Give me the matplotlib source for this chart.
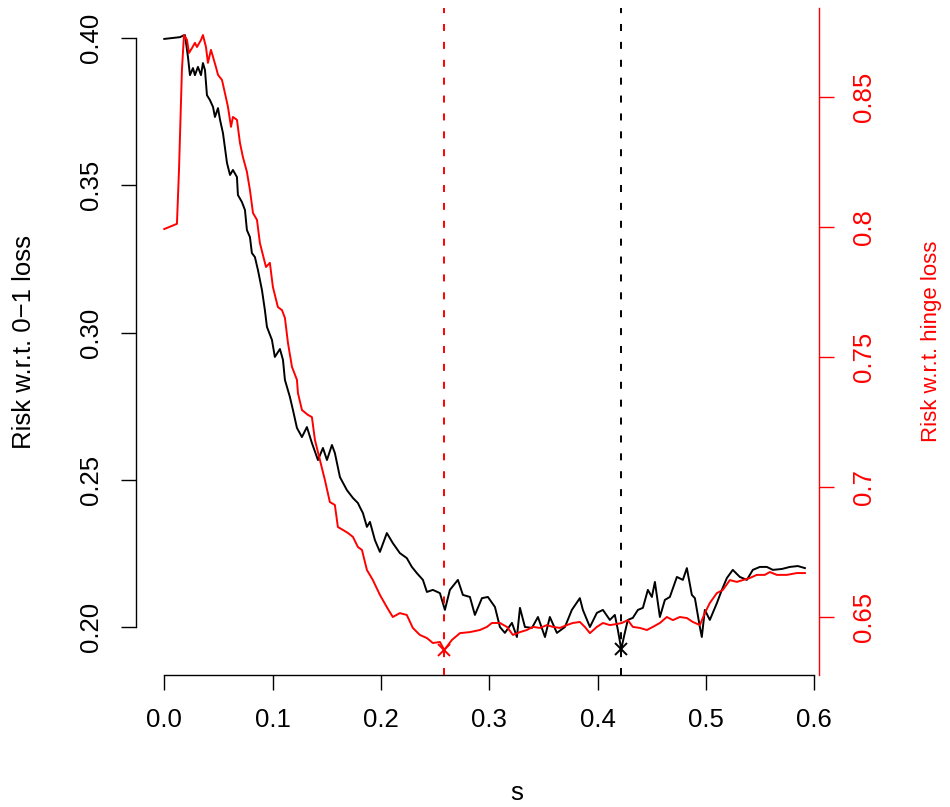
import numpy as np
import matplotlib
matplotlib.use('Agg')
import matplotlib.pyplot as plt

# black curve: risk w.r.t. 0-1 loss (left axis)
s_01 = [0.0, 0.0145, 0.0173, 0.0191, 0.0219, 0.0237, 0.0265, 0.0283, 0.0311, 0.0339,
        0.0357, 0.0376, 0.0394, 0.0422, 0.0450, 0.0468, 0.0496, 0.0515, 0.0542, 0.0579,
        0.0607, 0.0634, 0.0671, 0.0680, 0.0717, 0.0745, 0.0763, 0.0791, 0.0809, 0.0837,
        0.0865, 0.0902, 0.0929, 0.0948, 0.0994, 0.1021, 0.1068, 0.1096, 0.1114, 0.1160,
        0.1188, 0.1225, 0.1271, 0.1317, 0.1363, 0.1419, 0.1465, 0.1502, 0.1548, 0.1575,
        0.1622, 0.1686, 0.1742, 0.1788, 0.1806, 0.1834, 0.1871, 0.1899, 0.1945, 0.1991,
        0.2055, 0.2110, 0.2175, 0.2239, 0.2286, 0.2332, 0.2388, 0.2425, 0.2480, 0.2545,
        0.2591, 0.2637, 0.2711, 0.2757, 0.2822, 0.2868, 0.2933, 0.2988, 0.3053, 0.3099,
        0.3145, 0.3210, 0.3256, 0.3284, 0.3330, 0.3395, 0.3450, 0.3515, 0.3560, 0.3625,
        0.3699, 0.3763, 0.3837, 0.3865, 0.3930, 0.3994, 0.4050, 0.4114, 0.4160, 0.4188,
        0.4219, 0.4252, 0.4280, 0.4326, 0.4373, 0.4419, 0.4465, 0.4502, 0.4530, 0.4576,
        0.4622, 0.4668, 0.4733, 0.4788, 0.4825, 0.4871, 0.4899, 0.4945, 0.4963, 0.4991,
        0.5037, 0.5102, 0.5148, 0.5194, 0.5249, 0.5314, 0.5379, 0.5434, 0.5499, 0.5563,
        0.5619, 0.5702, 0.5776, 0.5850, 0.5915]
risk_01 = [0.3997, 0.4003, 0.4008, 0.4010, 0.3935, 0.3874, 0.3898, 0.3874, 0.3902, 0.3874,
           0.3915, 0.3891, 0.3806, 0.3789, 0.3766, 0.3732, 0.3762, 0.3722, 0.3677, 0.3576,
           0.3535, 0.3552, 0.3528, 0.3467, 0.3443, 0.3416, 0.3348, 0.3324, 0.3270, 0.3256,
           0.3212, 0.3144, 0.3076, 0.3019, 0.2975, 0.2917, 0.2944, 0.2907, 0.2839, 0.2781,
           0.2737, 0.2676, 0.2645, 0.2679, 0.2625, 0.2567, 0.2608, 0.2567, 0.2618, 0.2591,
           0.2509, 0.2465, 0.2438, 0.2421, 0.2407, 0.2387, 0.2340, 0.2357, 0.2295, 0.2255,
           0.2319, 0.2285, 0.2251, 0.2234, 0.2204, 0.2183, 0.2160, 0.2119, 0.2126, 0.2115,
           0.2058, 0.2126, 0.2160, 0.2109, 0.2102, 0.2041, 0.2098, 0.2102, 0.2068, 0.2000,
           0.1980, 0.2014, 0.1966, 0.2065, 0.2000, 0.1997, 0.2034, 0.1966, 0.2034, 0.1980,
           0.2000, 0.2058, 0.2098, 0.2058, 0.2000, 0.2048, 0.2058, 0.2024, 0.2041, 0.1990,
           0.1925, 0.1980, 0.2024, 0.2031, 0.2058, 0.2065, 0.2126, 0.2102, 0.2153, 0.2034,
           0.2092, 0.2102, 0.2170, 0.2160, 0.2200, 0.2109, 0.2098, 0.2000, 0.1966, 0.2058,
           0.2024, 0.2081, 0.2126, 0.2166, 0.2194, 0.2170, 0.2160, 0.2194, 0.2204, 0.2204,
           0.2194, 0.2197, 0.2204, 0.2207, 0.2200]

# red curve: risk w.r.t. hinge loss (right axis)
s_hinge = [0.0, 0.0117, 0.0136, 0.0163, 0.0182, 0.0210, 0.0228, 0.0256, 0.0283, 0.0302,
           0.0339, 0.0357, 0.0385, 0.0403, 0.0431, 0.0450, 0.0477, 0.0496, 0.0533, 0.0560,
           0.0588, 0.0616, 0.0634, 0.0671, 0.0699, 0.0726, 0.0763, 0.0791, 0.0819, 0.0856,
           0.0883, 0.0939, 0.0975, 0.1003, 0.1049, 0.1087, 0.1114, 0.1142, 0.1179, 0.1225,
           0.1234, 0.1271, 0.1327, 0.1363, 0.1391, 0.1437, 0.1483, 0.1529, 0.1575, 0.1603,
           0.1649, 0.1696, 0.1742, 0.1788, 0.1825, 0.1871, 0.1926, 0.1991, 0.2055, 0.2110,
           0.2175, 0.2239, 0.2295, 0.2360, 0.2425, 0.2480, 0.2545, 0.2585, 0.2656, 0.2730,
           0.2822, 0.2914, 0.2979, 0.3025, 0.3099, 0.3164, 0.3219, 0.3284, 0.3348, 0.3404,
           0.3469, 0.3533, 0.3588, 0.3653, 0.3717, 0.3772, 0.3837, 0.3883, 0.3930, 0.3994,
           0.4050, 0.4114, 0.4179, 0.4225, 0.4280, 0.4326, 0.4391, 0.4456, 0.4511, 0.4576,
           0.4640, 0.4696, 0.4760, 0.4825, 0.4880, 0.4945, 0.4991, 0.5037, 0.5102, 0.5157,
           0.5222, 0.5286, 0.5342, 0.5406, 0.5471, 0.5545, 0.5591, 0.5656, 0.5748, 0.5840,
           0.5915]
risk_hinge = [0.7992, 0.8012, 0.8219, 0.8604, 0.8738, 0.8719, 0.8669, 0.8688, 0.8708, 0.8692,
              0.8719, 0.8738, 0.8692, 0.8631, 0.8681, 0.8654, 0.8615, 0.8585, 0.8565, 0.8515,
              0.8462, 0.8385, 0.8423, 0.8412, 0.8323, 0.8269, 0.8212, 0.8142, 0.8054, 0.8027,
              0.7938, 0.7846, 0.7862, 0.7769, 0.7692, 0.7680, 0.7650, 0.7554, 0.7462, 0.7412,
              0.7362, 0.7296, 0.7277, 0.7269, 0.7181, 0.7104, 0.7027, 0.6942, 0.6931, 0.6846,
              0.6835, 0.6823, 0.6808, 0.6769, 0.6758, 0.6681, 0.6642, 0.6585, 0.6538, 0.6500,
              0.6515, 0.6508, 0.6458, 0.6431, 0.6419, 0.6400, 0.6404, 0.6373, 0.6412, 0.6438,
              0.6442, 0.6450, 0.6462, 0.6477, 0.6477, 0.6462, 0.6431, 0.6442, 0.6450, 0.6462,
              0.6458, 0.6469, 0.6462, 0.6458, 0.6469, 0.6477, 0.6481, 0.6462, 0.6438, 0.6462,
              0.6477, 0.6469, 0.6473, 0.6477, 0.6488, 0.6462, 0.6458, 0.6450, 0.6462, 0.6477,
              0.6500, 0.6488, 0.6500, 0.6496, 0.6481, 0.6469, 0.6515, 0.6554, 0.6592, 0.6604,
              0.6642, 0.6635, 0.6642, 0.6650, 0.6662, 0.6662, 0.6673, 0.6662, 0.6662, 0.6669,
              0.6669]

x_ticks = [0.0, 0.1, 0.2, 0.3, 0.4, 0.5, 0.6]
x_labels = ['0.0', '0.1', '0.2', '0.3', '0.4', '0.5', '0.6']
left_ticks = [0.20, 0.25, 0.30, 0.35, 0.40]
left_labels = ['0.20', '0.25', '0.30', '0.35', '0.40']
right_ticks = [0.65, 0.70, 0.75, 0.80, 0.85]
right_labels = ['0.65', '0.7', '0.75', '0.8', '0.85']

plt.rcParams['font.family'] = ['Liberation Sans', 'DejaVu Sans']
fs = 18.5
lw = 1.4

W, H = 950, 807
fig = plt.figure(figsize=(W / 100, H / 100), dpi=100)
ax = fig.add_axes([136 / W, 1 - 675 / H, (819 - 136) / W, (675 - 8) / H])
ax2 = ax.twinx()

ax.plot(s_01, risk_01, color='black', lw=lw)
ax2.plot(s_hinge, risk_hinge, color='red', lw=lw)

# minima
i01 = int(np.argmin(risk_01))
ih = int(np.argmin(risk_hinge))
dash = (0, (3.6, 5.6))
ax.axvline(s_01[i01], color='black', lw=lw, linestyle=dash)
ax2.axvline(s_hinge[ih], color='red', lw=lw, linestyle=dash)
ax.plot(s_01[i01], risk_01[i01], marker='x', color='black', ms=9, mew=1.4)
ax2.plot(s_hinge[ih], risk_hinge[ih], marker='x', color='red', ms=9, mew=1.4)

ax.set_xlim(-0.0261, 0.6045)
ax.set_ylim(0.1837, 0.4102)
ax2.set_ylim(0.6277, 0.8842)

for sp in ['top', 'right']:
    ax.spines[sp].set_visible(False)
for sp in ['top', 'left', 'bottom']:
    ax2.spines[sp].set_visible(False)
ax.spines['left'].set_bounds(0.20, 0.40)
ax.spines['bottom'].set_bounds(0.0, 0.6)
ax2.spines['right'].set_color('red')
for sp in [ax.spines['left'], ax.spines['bottom'], ax2.spines['right']]:
    sp.set_linewidth(1.0)

ax.set_xticks(x_ticks)
ax.set_xticklabels(x_labels)
ax.set_yticks(left_ticks)
ax.set_yticklabels(left_labels)
ax2.set_yticks(right_ticks)
ax2.set_yticklabels(right_labels)

ax.tick_params(direction='out', length=10.8, width=1.0, labelsize=fs, pad=13)
ax2.tick_params(direction='out', length=10.8, width=1.0, labelsize=fs, pad=13,
                colors='red')
for lab in ax.get_yticklabels():
    lab.set_rotation(90)
    lab.set_va('center')
for lab in ax2.get_yticklabels():
    lab.set_rotation(90)
    lab.set_va('center')

fig.text(24 / W, 1 - 342 / H, 'Risk w.r.t. 0\u22121 loss', rotation=90,
         ha='center', va='center', fontsize=fs)
fig.text(932 / W, 1 - 341 / H, 'Risk w.r.t. hinge loss', rotation=90,
         ha='center', va='center', fontsize=16, color='red')
fig.text(517 / W, 1 - 793 / H, 's', ha='center', va='center', fontsize=fs)

fig.savefig('out.png', dpi=100)
